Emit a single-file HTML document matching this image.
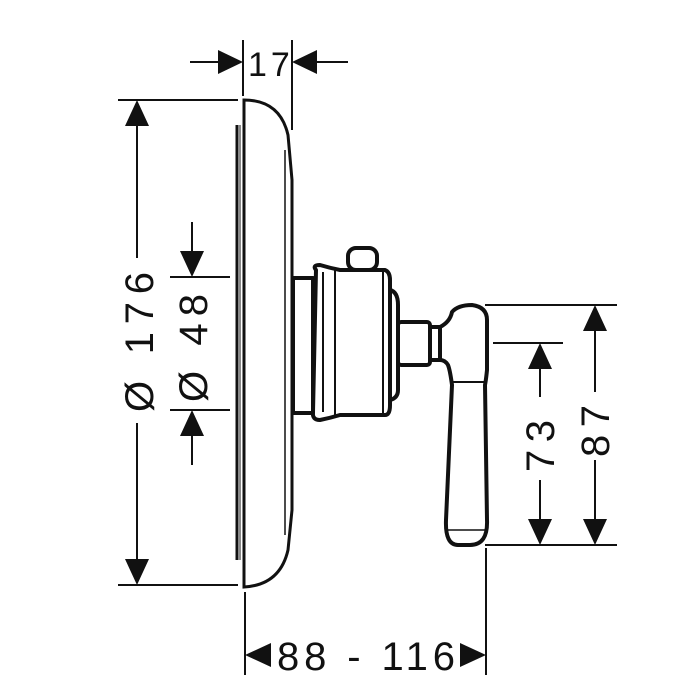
<!DOCTYPE html>
<html><head><style>html,body{margin:0;padding:0;background:#fff}svg{display:block}</style></head>
<body>
<svg width="700" height="700" viewBox="0 0 700 700" xmlns="http://www.w3.org/2000/svg" font-family="Liberation Sans, sans-serif">
<g stroke="#111" fill="none" stroke-width="2">
<line x1="243" y1="40" x2="243" y2="96"/>
<line x1="292" y1="40" x2="292" y2="130"/>
<line x1="190" y1="62" x2="220" y2="62"/>
<line x1="315" y1="62" x2="348" y2="62"/>
<line x1="118" y1="100" x2="238" y2="100"/>
<line x1="118" y1="585" x2="238" y2="585"/>
<line x1="137" y1="125" x2="137" y2="258"/>
<line x1="137" y1="423" x2="137" y2="560"/>
<line x1="170" y1="277" x2="230" y2="277"/>
<line x1="170" y1="410" x2="230" y2="410"/>
<line x1="192" y1="222" x2="192" y2="255"/>
<line x1="192" y1="432" x2="192" y2="465"/>
<line x1="485" y1="305" x2="617" y2="305"/>
<line x1="485" y1="545" x2="617" y2="545"/>
<line x1="493" y1="343" x2="563" y2="343"/>
<line x1="595" y1="330" x2="595" y2="392"/>
<line x1="595" y1="460" x2="595" y2="522"/>
<line x1="540" y1="366" x2="540" y2="397"/>
<line x1="540" y1="480" x2="540" y2="522"/>
<line x1="245" y1="592" x2="245" y2="675"/>
<line x1="486" y1="548" x2="486" y2="675"/>
</g>
<g fill="#111">
<polygon points="243,62 218,50 218,74"/>
<polygon points="292,62 317,50 317,74"/>
<polygon points="137,100 125,126 149,126"/>
<polygon points="137,585 125,559 149,559"/>
<polygon points="192,277 180,251 204,251"/>
<polygon points="192,410 180,436 204,436"/>
<polygon points="595,305 583,331 607,331"/>
<polygon points="595,545 583,519 607,519"/>
<polygon points="540,343 528,369 552,369"/>
<polygon points="540,545 528,519 552,519"/>
<polygon points="245,655 271,643 271,667"/>
<polygon points="486,655 460,643 460,667"/>
</g>
<g fill="#111" font-size="40">
<text x="248" y="76" font-size="34" letter-spacing="4">17</text>
<text x="277" y="670" textLength="178" lengthAdjust="spacing">88 - 116</text>
<text transform="translate(153,412) rotate(-90)" textLength="140" lengthAdjust="spacing">Ø 176</text>
<text transform="translate(207,402) rotate(-90)" textLength="108" lengthAdjust="spacing">Ø 48</text>
<text transform="translate(554,472) rotate(-90)" textLength="52" lengthAdjust="spacing">73</text>
<text transform="translate(609,457) rotate(-90)" textLength="52" lengthAdjust="spacing">87</text>
</g>
<g stroke="#111" fill="none">
<path d="M244,100 Q280,100 288,135 L292,180 L292,510 L288,550 Q280,585 244,587 Z" stroke-width="3"/>
<line x1="244" y1="102" x2="244" y2="585" stroke-width="3"/>
<line x1="237" y1="125" x2="237" y2="560" stroke-width="3"/>
<line x1="240" y1="125" x2="240" y2="560" stroke-width="1"/>
<line x1="285" y1="150" x2="285" y2="535" stroke-width="1.5"/>
<g stroke-width="4" stroke-linejoin="round">
<rect x="293" y="278" width="20" height="135"/>
<path d="M316,270 Q312,265 320,265 Q330,268 340,270 L385,270 Q390,272 390,280 L390,405 Q390,415 385,415 L340,415 Q330,418 320,420 Q312,420 313,412 Z"/>
<rect x="348" y="248" width="29" height="22" rx="8"/>
<path d="M390,290 Q398,292 398,305 L398,390 Q398,398 390,400"/>
<rect x="398" y="322" width="32" height="43" rx="3"/>
<rect x="430" y="327" width="10" height="33"/>
<path d="M440,327 Q450,322 452,312 Q458,305 472,305 Q487,307 487,320 L487,370 Q486,380 485,385 L487,520 Q488,545 470,545 L458,545 Q445,545 446,520 L452,385 Q450,370 448,365 Q445,360 440,360"/>
</g>
<line x1="323" y1="272" x2="323" y2="412" stroke-width="2"/>
<line x1="335" y1="270" x2="335" y2="415" stroke-width="2"/>
<line x1="383" y1="272" x2="383" y2="413" stroke-width="2"/>
<line x1="452" y1="382" x2="484" y2="382" stroke-width="2"/>
<line x1="448" y1="530" x2="485" y2="530" stroke-width="1.5"/>
</g>
</svg>
</body></html>
